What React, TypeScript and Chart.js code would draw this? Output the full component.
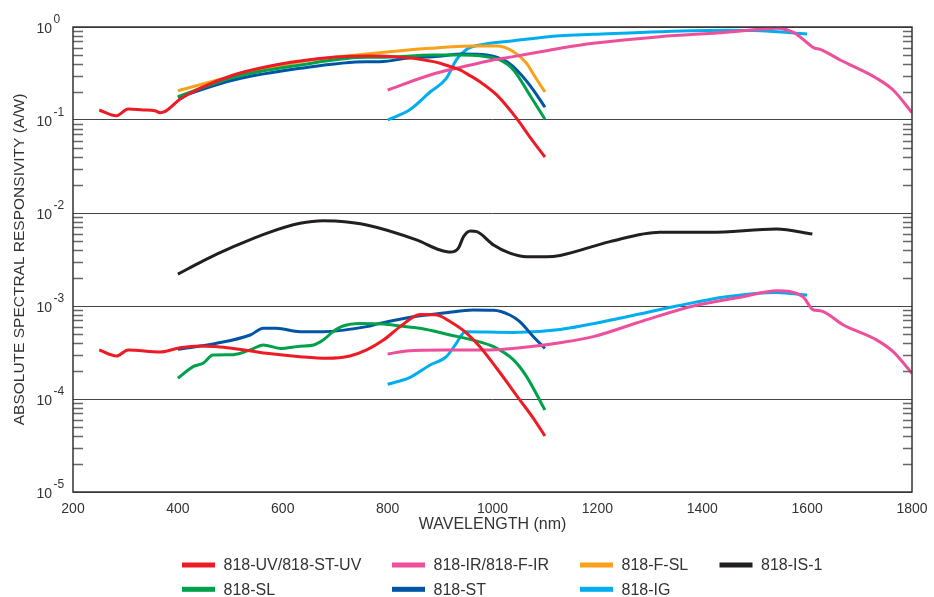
import React, { useEffect, useRef } from "react";
import { Chart, registerables } from "chart.js";
Chart.register(...registerables);

const FONT = '"Liberation Sans", Arial, Helvetica, sans-serif';

// ---- Data (wavelength nm, responsivity A/W) ----
const UV_NM = [250, 283, 305, 334, 356, 366, 375, 404, 442, 506, 569, 633, 696, 760, 785, 824, 849, 887, 900, 938, 957, 976, 1008, 1046, 1071, 1100];
const UV_VAL = [0.128, 0.111, 0.131, 0.128, 0.126, 0.12, 0.123, 0.167, 0.219, 0.305, 0.374, 0.431, 0.472, 0.488, 0.488, 0.472, 0.46, 0.424, 0.407, 0.345, 0.3, 0.258, 0.186, 0.104, 0.066, 0.04];

const STUV_NM = [250, 283, 305, 366, 404, 442, 506, 569, 633, 684, 728, 760, 792, 824, 862, 894, 919, 951, 976, 1008, 1052, 1078, 1100];
const STUV_VAL = [3.37e-4, 2.9e-4, 3.37e-4, 3.2e-4, 3.56e-4, 3.71e-4, 3.5e-4, 3.1e-4, 2.85e-4, 2.74e-4, 2.9e-4, 3.37e-4, 4.3e-4, 6.0e-4, 8.1e-4, 8.0e-4, 6.8e-4, 5.08e-4, 3.65e-4, 2.14e-4, 9.8e-5, 6.2e-5, 4.0e-5];

const IR_NM = [800, 881, 944, 1001, 1040, 1103, 1129, 1192, 1319, 1446, 1510, 1542, 1573, 1590, 1612, 1625, 1663, 1733, 1764, 1800];
const IR_VAL = [0.21, 0.305, 0.374, 0.442, 0.48, 0.556, 0.59, 0.667, 0.787, 0.877, 0.944, 0.97, 0.88, 0.755, 0.6, 0.575, 0.442, 0.28, 0.21, 0.12];

const FIR_NM = [800, 836, 912, 995, 1071, 1129, 1192, 1288, 1383, 1478, 1542, 1592, 1612, 1625, 1669, 1733, 1764, 1800];
const FIR_VAL = [3.05e-4, 3.28e-4, 3.37e-4, 3.37e-4, 3.65e-4, 4.03e-4, 4.68e-4, 6.95e-4, 1.0e-3, 1.26e-3, 1.46e-3, 1.26e-3, 9.05e-4, 8.9e-4, 6.25e-4, 4.3e-4, 3.23e-4, 1.89e-4];

const FSL_NM = [400, 506, 633, 760, 881, 957, 1008, 1040, 1065, 1078, 1100];
const FSL_VAL = [0.206, 0.297, 0.424, 0.512, 0.59, 0.625, 0.625, 0.543, 0.407, 0.31, 0.2];

const IS1_NM = [400, 450, 506, 569, 633, 677, 700, 760, 855, 900, 920, 935, 945, 958, 970, 1002, 1033, 1065, 1103, 1129, 1224, 1319, 1415, 1542, 1610];
const IS1_VAL = [0.0022, 0.0031, 0.00434, 0.00605, 0.00775, 0.00827, 0.0082, 0.00743, 0.00513, 0.004, 0.0038, 0.0042, 0.0056, 0.0064, 0.0063, 0.00453, 0.0037, 0.00339, 0.00339, 0.0035, 0.00492, 0.0062, 0.0062, 0.00673, 0.00594];

const SL_NM = [400, 506, 633, 760, 785, 887, 938, 976, 1014, 1040, 1071, 1100];
const SL_VAL = [0.178, 0.288, 0.39, 0.472, 0.472, 0.5, 0.5, 0.49, 0.442, 0.345, 0.186, 0.102];

const SLLOW_NM = [400, 429, 448, 467, 506, 538, 563, 595, 633, 659, 677, 696, 715, 747, 792, 824, 862, 919, 963, 1002, 1040, 1065, 1100];
const SLLOW_VAL = [1.67e-4, 2.23e-4, 2.42e-4, 2.97e-4, 3.0e-4, 3.37e-4, 3.81e-4, 3.5e-4, 3.7e-4, 3.81e-4, 4.3e-4, 5.3e-4, 6.1e-4, 6.5e-4, 6.4e-4, 6.1e-4, 5.76e-4, 4.88e-4, 4.3e-4, 3.65e-4, 2.63e-4, 1.74e-4, 7.6e-5];

const ST_NM = [400, 506, 633, 760, 785, 849, 887, 944, 989, 1027, 1052, 1078, 1100];
const ST_VAL = [0.175, 0.269, 0.36, 0.424, 0.424, 0.472, 0.48, 0.512, 0.5, 0.424, 0.318, 0.21, 0.137];

const STLOW_NM = [400, 474, 538, 563, 588, 633, 677, 760, 785, 849, 912, 963, 1002, 1033, 1052, 1078, 1100];
const STLOW_VAL = [3.42e-4, 3.97e-4, 4.88e-4, 5.76e-4, 5.76e-4, 5.3e-4, 5.3e-4, 6.0e-4, 6.5e-4, 7.67e-4, 8.47e-4, 9.05e-4, 9.0e-4, 8.0e-4, 6.8e-4, 4.68e-4, 3.5e-4];

const IG_NM = [800, 843, 881, 912, 931, 951, 976, 1040, 1129, 1192, 1319, 1446, 1510, 1600];
const IG_VAL = [0.1, 0.13, 0.2, 0.28, 0.442, 0.575, 0.64, 0.713, 0.807, 0.834, 0.89, 0.92, 0.913, 0.84];

const IGLOW_NM = [800, 843, 881, 912, 931, 948, 1040, 1129, 1256, 1351, 1446, 1542, 1600];
const IGLOW_VAL = [1.44e-4, 1.71e-4, 2.32e-4, 2.85e-4, 3.97e-4, 5.3e-4, 5.2e-4, 5.6e-4, 7.67e-4, 1.0e-3, 1.26e-3, 1.4e-3, 1.31e-3];

// ---- Legend / axis text ----
const LEGEND_LABELS = ["818-UV/818-ST-UV", "818-IR/818-F-IR", "818-F-SL", "818-IS-1", "818-SL", "818-ST", "818-IG"];
const LEGEND_COLORS = ["#ED1C24", "#EE4F9B", "#F9A11B", "#231F20", "#00A14B", "#0054A6", "#00AEEF"];
const X_TICKS = [200, 400, 600, 800, 1000, 1200, 1400, 1600, 1800];
const Y_EXPONENTS = [0, -1, -2, -3, -4, -5];
const X_TITLE = "WAVELENGTH (nm)";
const Y_TITLE = "ABSOLUTE SPECTRAL RESPONSIVITY (A/W)";

const pts = (nm: number[], v: number[]) => nm.map((x, i) => ({ x, y: v[i] }));

const SERIES: { group: number; nm: number[]; val: number[] }[] = [
  { group: 0, nm: UV_NM, val: UV_VAL },
  { group: 0, nm: STUV_NM, val: STUV_VAL },
  { group: 1, nm: IR_NM, val: IR_VAL },
  { group: 1, nm: FIR_NM, val: FIR_VAL },
  { group: 4, nm: SL_NM, val: SL_VAL },
  { group: 4, nm: SLLOW_NM, val: SLLOW_VAL },
  { group: 5, nm: ST_NM, val: ST_VAL },
  { group: 5, nm: STLOW_NM, val: STLOW_VAL },
  { group: 2, nm: FSL_NM, val: FSL_VAL },
  { group: 6, nm: IG_NM, val: IG_VAL },
  { group: 6, nm: IGLOW_NM, val: IGLOW_VAL },
  { group: 3, nm: IS1_NM, val: IS1_VAL },
];

const decorPlugin = {
  id: "decor",
  afterDraw(chart: any) {
    const ctx = chart.ctx as CanvasRenderingContext2D;
    const { left, right, top, bottom } = chart.chartArea;
    const ys = chart.scales.y;
    ctx.save();
    // minor ticks
    ctx.strokeStyle = "#666";
    ctx.lineWidth = 1.3;
    for (let e = -5; e < 0; e++) {
      for (let k = 2; k <= 9; k++) {
        const py = Math.round(ys.getPixelForValue(k * Math.pow(10, e))) + 0.5;
        ctx.beginPath();
        ctx.moveTo(left, py);
        ctx.lineTo(left + 10, py);
        ctx.moveTo(right, py);
        ctx.lineTo(right - 9, py);
        ctx.stroke();
      }
    }
    // border box
    ctx.strokeStyle = "#333";
    ctx.lineWidth = 1.5;
    ctx.strokeRect(left, top, right - left, bottom - top);

    // y tick labels with superscript exponent
    ctx.fillStyle = "#333";
    for (const e of Y_EXPONENTS) {
      const py = ys.getPixelForValue(Math.pow(10, e));
      ctx.font = `14px ${FONT}`;
      ctx.textAlign = "right";
      ctx.textBaseline = "alphabetic";
      ctx.fillText("10", 52, py + 5.5);
      ctx.font = `12px ${FONT}`;
      ctx.textAlign = "left";
      ctx.fillText(String(e), 53.5, py - 4.5);
    }
    // axis titles
    ctx.font = `16px ${FONT}`;
    ctx.textAlign = "center";
    ctx.textBaseline = "alphabetic";
    ctx.fillText(X_TITLE, (left + right) / 2, 529);
    ctx.save();
    ctx.translate(23.5, (top + bottom) / 2);
    ctx.rotate(-Math.PI / 2);
    ctx.font = `15.5px ${FONT}`;
    ctx.fillText(Y_TITLE, 0, 0);
    ctx.restore();

    // legend (4-column grid, 2 rows)
    const textX = [223.5, 433.5, 621.5, 761];
    const rowY = [565, 589.3];
    ctx.font = `16px ${FONT}`;
    ctx.textAlign = "left";
    LEGEND_LABELS.forEach((lab, i) => {
      const col = i % 4;
      const row = Math.floor(i / 4);
      const tx = textX[col];
      const cy = rowY[row];
      ctx.fillStyle = LEGEND_COLORS[i];
      ctx.fillRect(tx - 41.5, cy - 2.5, 33, 5);
      ctx.fillStyle = "#333";
      ctx.fillText(lab, tx, cy + 5.3);
    });
    ctx.restore();
  },
};

export default function App() {
  const ref = useRef<HTMLCanvasElement | null>(null);
  useEffect(() => {
    document.body.style.margin = "0";
    const canvas = ref.current;
    if (!canvas) return;
    const datasets = SERIES.map((s) => ({
      label: LEGEND_LABELS[s.group],
      data: pts(s.nm, s.val),
      borderColor: LEGEND_COLORS[s.group],
      backgroundColor: LEGEND_COLORS[s.group],
      borderWidth: 3,
      pointRadius: 0,
      fill: false,
      tension: 0.4,
      cubicInterpolationMode: "monotone" as const,
      borderCapStyle: "butt" as const,
      borderJoinStyle: "round" as const,
    }));
    const chart = new Chart(canvas, {
      type: "line",
      data: { datasets },
      options: {
        animation: false,
        responsive: false,
        events: [],
        layout: { padding: { top: 27, right: 22, left: 0, bottom: 0 } },
        plugins: { legend: { display: false }, tooltip: { enabled: false }, title: { display: false } },
        scales: {
          x: {
            type: "linear",
            min: 200,
            max: 1800,
            afterBuildTicks: (s: any) => {
              s.ticks = X_TICKS.map((v) => ({ value: v }));
            },
            afterFit: (s: any) => {
              s.height = 105;
              s.paddingLeft = 0;
              s.paddingRight = 0;
            },
            ticks: {
              font: { size: 14, family: FONT },
              color: "#333",
              padding: 9,
              maxRotation: 0,
              autoSkip: false,
              callback: (v: any) => String(v),
            },
            grid: { display: false, drawTicks: false },
            border: { display: false },
          },
          y: {
            type: "logarithmic",
            min: 1e-5,
            max: 1,
            afterBuildTicks: (s: any) => {
              s.ticks = Y_EXPONENTS.map((e) => ({ value: Math.pow(10, e) }));
            },
            afterFit: (s: any) => {
              s.width = 73;
            },
            ticks: { display: false },
            grid: { color: "#444", lineWidth: 1, drawTicks: false },
            border: { display: false },
          },
        },
      },
      plugins: [decorPlugin],
    });
    return () => chart.destroy();
  }, []);
  return <canvas ref={ref} width={934} height={597} style={{ display: "block" }} />;
}
